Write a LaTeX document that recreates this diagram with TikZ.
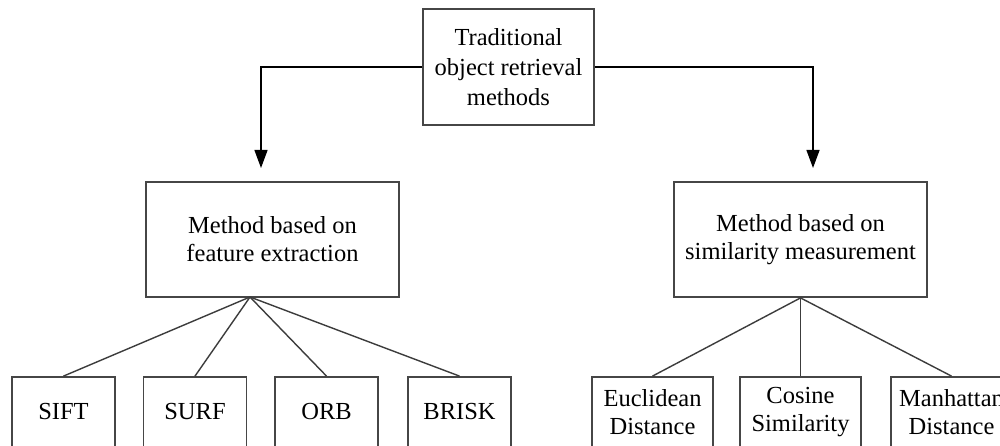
\documentclass[tikz,border=0pt]{standalone}
\usepackage{fontspec}
\setmainfont{Liberation Serif}
\usetikzlibrary{arrows.meta}
\begin{document}
\begin{tikzpicture}[x=1pt,y=-1pt,
  boxline/.style={draw={rgb,255:red,70;green,70;blue,70},line width=1.8pt},
  topbox/.style={boxline,inner sep=0pt,minimum width=171pt,minimum height=116pt,align=center,font=\fontsize{24.5}{30}\selectfont},
  midbox/.style={boxline,inner sep=0pt,minimum width=253pt,minimum height=115pt,align=center,font=\fontsize{24.5}{28}\selectfont},
  leafbox/.style={boxline,inner sep=0pt,minimum width=103pt,minimum height=70pt,align=center,font=\fontsize{24.5}{28}\selectfont},
  wleafbox/.style={leafbox,minimum width=121pt},
  conn/.style={draw={rgb,255:red,60;green,60;blue,60},line width=1.4pt},
  arr/.style={draw=black,line width=1.3pt,-{Triangle[length=18pt,width=13pt]},shorten >=14pt}
]
\fill[white] (0,0) rectangle (1000,446);
\useasboundingbox (0,0) rectangle (1000,446);
\clip (0,0) rectangle (1000,446);

\node[topbox] (top) at (508.5,67) {Traditional\\object retrieval\\methods};
\node[midbox] (feat) at (272.5,239.5) {Method based on\\feature extraction};
\node[midbox] (sim) at (800.5,239.5) {Method based on\\similarity measurement};

\node[leafbox] (sift) at (63.5,412) {SIFT};
\node[leafbox] (surf) at (195,412) {SURF};
\node[leafbox] (orb) at (326.5,412) {ORB};
\node[leafbox] (brisk) at (459.5,412) {BRISK};

\node[wleafbox] (euc) at (652.5,412) {Euclidean\\Distance};
\node[wleafbox] (cos) at (800.5,412) {Cosine\\Similarity};
\node[wleafbox] (man) at (951.5,412) {Manhattan\\Distance};

\coordinate (la) at (261,182);
\coordinate (ra) at (813,182);
\coordinate (fa) at (250,297);

\draw[arr] (top.west) -| (la);
\draw[arr] (top.east) -| (ra);

\draw[conn] (fa) -- (sift.north);
\draw[conn] (fa) -- (surf.north);
\draw[conn] (fa) -- (orb.north);
\draw[conn] (fa) -- (brisk.north);

\draw[conn] (sim.south) -- (euc.north);
\draw[conn] (sim.south) -- (cos.north);
\draw[conn] (sim.south) -- (man.north);
\end{tikzpicture}
\end{document}
